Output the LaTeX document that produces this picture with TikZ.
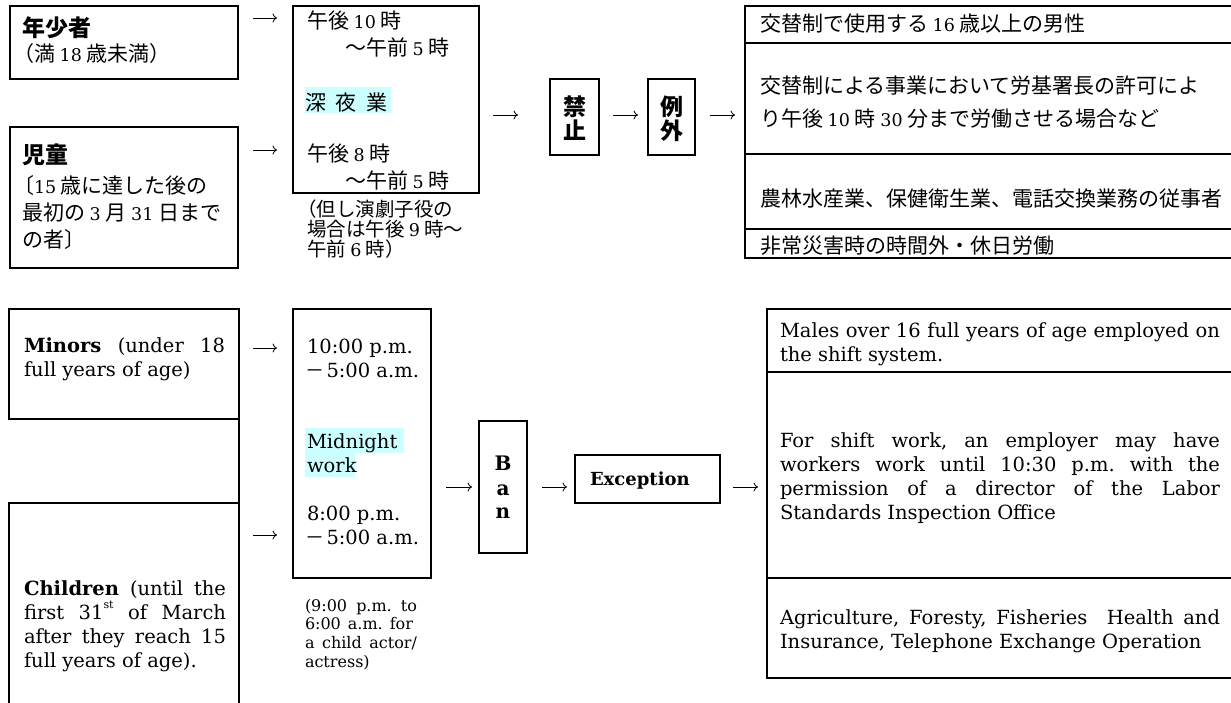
\documentclass[tikz,border=0pt]{standalone}
\usepackage{fontspec}
\setmainfont{DejaVu Serif}
\newfontfamily\en{DejaVu Serif}
\newfontfamily\jp{Noto Sans CJK JP}
\usetikzlibrary{arrows.meta}
\definecolor{hl}{RGB}{204,255,255}
\newcommand\jfy[2]{\makebox[#1][s]{#2}}
\newcommand\digs[1]{{\en\fontsize{17.5}{17.5}\selectfont #1}}
\newcommand\sups[1]{\raisebox{0.55em}{\fontsize{11}{11}\selectfont #1}}
\newcommand\mdash{{\jp\fontsize{19}{19}\selectfont\hspace*{-2pt}－}\hspace{2.5pt}}
\tikzset{
  box/.style={draw, line width=1.9pt, inner sep=0pt, outer sep=0pt, anchor=north west},
  txt/.style={inner sep=0pt, outer sep=0pt, anchor=base west},
  ctr/.style={inner sep=0pt, outer sep=0pt, anchor=base},
  jpf/.style={font=\jp\fontsize{21}{27}\selectfont},
  jph/.style={font=\jp\bfseries\fontsize{23}{27}\selectfont},
  jpn/.style={font=\jp\fontsize{19.5}{20}\selectfont},
  enf/.style={font=\en\frenchspacing\fontsize{19.5}{24}\selectfont},
  enb/.style={font=\en\bfseries\fontsize{20}{24}\selectfont},
  ens/.style={font=\en\frenchspacing\fontsize{16}{18.7}\selectfont},
  arr/.style={line width=0.8pt, -{Computer Modern Rightarrow[length=4.5pt,width=9pt]}}
}
\begin{document}
\frenchspacing
\begin{tikzpicture}[x=1pt,y=-1pt]
\useasboundingbox (0,0) rectangle (1231,702);

% ================= TOP (Japanese) =================
\node[box, minimum width=228pt, minimum height=73pt] (jmin) at (10,6) {};
\node[box, minimum width=228pt, minimum height=141pt] (jchi) at (10,127) {};
\node[box, minimum width=186pt, minimum height=187pt] (jtime) at (293,6) {};
\node[box, minimum width=49pt, minimum height=76pt] (jban) at (550,79) {};
\node[box, minimum width=47pt, minimum height=76pt] (jexc) at (648,79) {};
\node[box, minimum width=500pt, minimum height=37pt] (jr1) at (745,6) {};
\node[box, minimum width=500pt, minimum height=111pt] (jr2) at (745,43) {};
\node[box, minimum width=500pt, minimum height=75pt] (jr3) at (745,154) {};
\node[box, minimum width=500pt, minimum height=29pt] (jr4) at (745,229) {};

\fill[hl] (305,87) rectangle (391,113);

\node[txt, jph] (tjmin) at (22,36.5) {年少者};
\node[txt, jpf] (tjmin2) at (13,61.5) {（満 \digs{18} 歳未満）};
\node[txt, jph] (tjchi) at (22,163.5) {児童};
\node[txt, jpf] (tjchi2) at (22,193.5) {\parbox[t]{225pt}{\hspace*{-9pt}〔\digs{15} 歳に達した後の\\最初の \digs{3} 月 \digs{31} 日まで\\の者〕}};

\node[txt, jpf] (tj1) at (307,28.5) {午後 \digs{10} 時};
\node[txt, jpf] (tj2) at (345,55.5) {～午前 \digs{5} 時};
\node[txt, jpf] (tj3) at (305,110.5) {深\hspace{10pt}夜\hspace{10pt}業};
\node[txt, jpf] (tj4) at (307,161.5) {午後 \digs{8} 時};
\node[txt, jpf] (tj5) at (345,188.5) {～午前 \digs{5} 時};
\node[txt, jpn] (tjn) at (307,216.5) {\parbox[t]{180pt}{\hspace*{-10pt}（但し演劇子役の\\場合は午後 \digs{9} 時～\\午前 \digs{6} 時）}};

\node[ctr, jph] (tban1) at (574.5,115.5) {禁};
\node[ctr, jph] (tban2) at (574.5,139) {止};
\node[ctr, jph] (texc1) at (671.5,115.5) {例};
\node[ctr, jph] (texc2) at (671.5,139) {外};

\node[txt, jpf] (tr1) at (760,31.5) {交替制で使用する \digs{16} 歳以上の男性};
\node[txt, font=\jp\fontsize{21}{33}\selectfont] (tr2) at (760,93.5) {\parbox[t]{470pt}{交替制による事業において労基署長の許可によ\\り午後 \digs{10} 時 \digs{30} 分まで労働させる場合など}};
\node[txt, jpf] (tr3) at (760,206.5) {農林水産業、保健衛生業、電話交換業務の従事者};
\node[txt, jpf] (tr4) at (760,253.5) {非常災害時の時間外・休日労働};

\coordinate (a1s) at (253,18);  \coordinate (a1e) at (277,18);
\coordinate (a2s) at (253,150); \coordinate (a2e) at (277,150);
\coordinate (a3s) at (493,115); \coordinate (a3e) at (518,115);
\coordinate (a4s) at (613,115); \coordinate (a4e) at (638,115);
\coordinate (a5s) at (710,115); \coordinate (a5e) at (735,115);
\draw[arr] (a1s) -- (a1e);
\draw[arr] (a2s) -- (a2e);
\draw[arr] (a3s) -- (a3e);
\draw[arr] (a4s) -- (a4e);
\draw[arr] (a5s) -- (a5e);

% ================= BOTTOM (English) =================
\node[box, minimum width=230pt, minimum height=110pt] (emin) at (9,309) {};
\node[box, minimum width=230pt, minimum height=230pt] (echi) at (9,503) {};
\draw[line width=1.9pt] (emin.south east) -- (echi.north east);
\node[box, minimum width=138pt, minimum height=269pt] (etime) at (293,309) {};
\node[box, minimum width=48pt, minimum height=132pt] (eban) at (479,421) {};
\node[box, minimum width=145pt, minimum height=48pt] (eexc) at (575,455) {};
\node[box, minimum width=480pt, minimum height=63pt] (er1) at (767,309) {};
\node[box, minimum width=480pt, minimum height=206pt] (er2) at (767,372) {};
\node[box, minimum width=480pt, minimum height=100pt] (er3) at (767,578) {};

\fill[hl] (305,428) rectangle (404,453);
\fill[hl] (305,453) rectangle (355,477);

\node[txt, enf] (temin) at (24,352) {\parbox[t]{210pt}{\jfy{201pt}{\textbf{Minors} (under 18}\\full years of age)}};
\node[txt, enf] (techi) at (24,595) {\parbox[t]{210pt}{\jfy{202pt}{\textbf{Children} (until the}\\\jfy{202pt}{first 31\sups{st} of March}\\\jfy{202pt}{after they reach 15}\\full years of age).}};

\node[txt, enf] (te1) at (307,353) {\parbox[t]{120pt}{10:00 p.m.\\\mdash 5:00 a.m.}};
\node[txt, enf] (te2) at (307,448) {\parbox[t]{120pt}{Midnight\\work}};
\node[txt, enf] (te3) at (307,520) {\parbox[t]{120pt}{8:00 p.m.\\\mdash 5:00 a.m.}};
\node[txt, ens] (ten) at (305,611) {\parbox[t]{120pt}{\jfy{112pt}{(9:00 p.m. to}\\\jfy{108pt}{6:00 a.m. for}\\\jfy{112pt}{a child actor/}\\actress)}};

\node[ctr, enb] (teb1) at (503,470) {B};
\node[ctr, enb] (teb2) at (503,495) {a};
\node[ctr, enb] (teb3) at (503,518) {n};
\node[txt, font=\en\bfseries\fontsize{18}{20}\selectfont] (teexc) at (590,485) {Exception};

\node[txt, enf] (ter1) at (780,337) {\parbox[t]{450pt}{\jfy{440pt}{Males over 16 full years of age employed on}\\the shift system.}};
\node[txt, enf] (ter2) at (780,447) {\parbox[t]{450pt}{\jfy{440pt}{For shift work, an employer may have}\\\jfy{440pt}{workers work until 10:30 p.m. with the}\\\jfy{440pt}{permission of a director of the Labor}\\Standards Inspection Office}};
\node[txt, enf] (ter3) at (780,624) {\parbox[t]{450pt}{\jfy{440pt}{Agriculture, Foresty, Fisheries\ \ Health and}\\Insurance, Telephone Exchange Operation}};

\coordinate (b1s) at (253,348); \coordinate (b1e) at (277,348);
\coordinate (b2s) at (253,535); \coordinate (b2e) at (277,535);
\coordinate (b3s) at (446,487); \coordinate (b3e) at (472,487);
\coordinate (b4s) at (542,487); \coordinate (b4e) at (567,487);
\coordinate (b5s) at (733,487); \coordinate (b5e) at (758,487);
\draw[arr] (b1s) -- (b1e);
\draw[arr] (b2s) -- (b2e);
\draw[arr] (b3s) -- (b3e);
\draw[arr] (b4s) -- (b4e);
\draw[arr] (b5s) -- (b5e);
\end{tikzpicture}
\end{document}
